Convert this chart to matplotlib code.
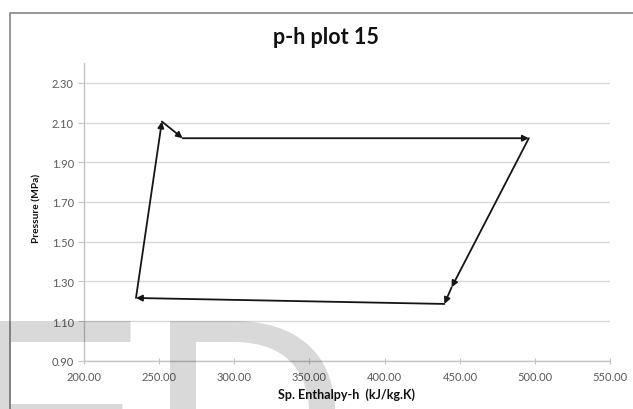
import matplotlib
matplotlib.use("Agg")
import matplotlib.pyplot as plt
from matplotlib.patches import Rectangle

# Cycle state points (specific enthalpy kJ/kg, pressure MPa), in process order
enthalpy = [234.8, 252.0, 265.8, 495.8, 444.5, 439.7, 234.8]
pressure = [1.216, 2.105, 2.021, 2.021, 1.270, 1.186, 1.216]

x_ticks = [200, 250, 300, 350, 400, 450, 500, 550]
y_ticks = [0.90, 1.10, 1.30, 1.50, 1.70, 1.90, 2.10, 2.30]

title = "p-h plot 15"
x_label = "Sp. Enthalpy-h  (kJ/kg.K)"
y_label = "Pressure (MPa)"

W, H = 633, 410
fig = plt.figure(figsize=(W / 100, H / 100), dpi=100)
fig.patch.set_facecolor("white")

ax = fig.add_axes([83.6 / W, 1 - 361.7 / H, (610.4 - 83.6) / W, (361.7 - 64) / H])
ax.set_facecolor("none")
ax.set_xlim(200, 550)
ax.set_ylim(0.90, 2.40)
ax.set_xticks(x_ticks)
ax.set_yticks(y_ticks)
ax.set_xticklabels([f"{v:.2f}" for v in x_ticks])
ax.set_yticklabels([f"{v:.2f}" for v in y_ticks])

grid_col = "#d9d9d9"
ax.yaxis.grid(True, color=grid_col, lw=1.0)
ax.xaxis.grid(False)
ax.set_axisbelow(True)
for s in ["top", "right"]:
    ax.spines[s].set_visible(False)
for s in ["left", "bottom"]:
    ax.spines[s].set_color("#c4c4c4")
    ax.spines[s].set_linewidth(1.0)

ax.tick_params(axis="x", direction="inout", length=4, color="#c4c4c4",
               labelcolor="#595959", pad=5.5)
ax.tick_params(axis="y", direction="out", length=4, color="#c4c4c4",
               labelcolor="#595959", pad=3)
for lab in ax.get_xticklabels() + ax.get_yticklabels():
    lab.set_fontfamily(["Lato", "DejaVu Sans"])
    lab.set_fontsize(8)

# Process lines with an arrowhead at the end of each step
line_col = "#151515"
for i in range(len(enthalpy) - 1):
    ax.annotate("", xy=(enthalpy[i + 1], pressure[i + 1]),
                xytext=(enthalpy[i], pressure[i]),
                arrowprops=dict(arrowstyle="-|>", color=line_col, lw=1.3,
                                mutation_scale=9, shrinkA=0, shrinkB=0))

fig.text(326 / W, 1 - 37 / H, title, ha="center", va="center",
         fontsize=15.5, fontweight="bold", family=["Lato", "DejaVu Sans"],
         color="#111111")
fig.text(346 / W, 1 - 395 / H, x_label, ha="center", va="center",
         fontsize=9, fontweight="bold", family=["Lato", "DejaVu Sans"],
         color="#111111")
fig.text(37 / W, 1 - 208 / H, y_label, ha="center", va="center",
         rotation=90, fontsize=7.3, fontweight="bold",
         family=["Lato", "DejaVu Sans"], color="#111111")

# Chart frame
frame = Rectangle((9.5 / W, -0.5), 2.0, 1.5 - 14 / H,
                  transform=fig.transFigure, fill=False,
                  edgecolor="#7a7a7a", lw=1.1, clip_on=False)
fig.patches.append(frame)

# Watermark letters
fig.text(-39 / W, 1 - 513 / H, "ED", ha="left", va="baseline",
         fontsize=201, family="Liberation Sans", color="black", alpha=0.15,
         zorder=10)

fig.savefig("out.png", dpi=100, facecolor="white")
